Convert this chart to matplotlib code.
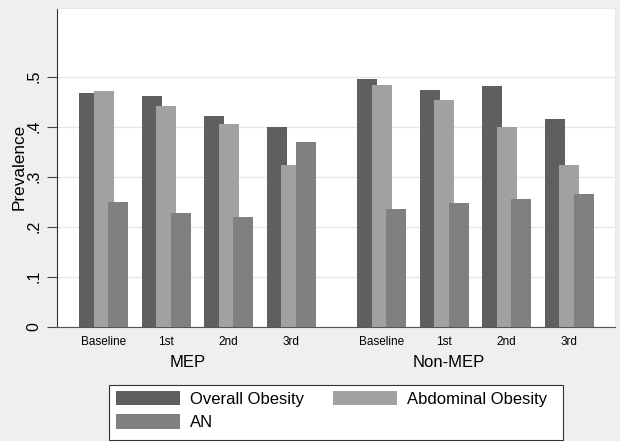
import matplotlib.pyplot as plt
import matplotlib.patches as mpatches
import numpy as np

plt.rcParams['font.family'] = ['Liberation Sans', 'DejaVu Sans']

waves = ["Baseline", "1st", "2nd", "3rd", "Baseline", "1st", "2nd", "3rd"]
groups = ["MEP", "Non-MEP"]
overall = [0.468, 0.461, 0.421, 0.400, 0.495, 0.474, 0.481, 0.415]
abdominal = [0.471, 0.441, 0.406, 0.323, 0.483, 0.453, 0.399, 0.323]
an = [0.249, 0.227, 0.219, 0.369, 0.235, 0.247, 0.256, 0.265]
series = ["Overall Obesity", "Abdominal Obesity", "AN"]
colors = ["#5f5f5f", "#a1a1a1", "#808080"]

# position of each wave on the x axis, with a gap between the two groups
x = np.array([0, 1, 2, 3, 4.45, 5.45, 6.45, 7.45])
group_x = [1.35, 5.52]
w = 0.32
step = 0.232

fig = plt.figure(figsize=(6.24, 4.45), dpi=100)
fig.patch.set_facecolor("white")
# light grey graph region
fig.add_artist(mpatches.Rectangle((0, 1 - 441 / 445), 620 / 624, 441 / 445,
                                  transform=fig.transFigure, facecolor="#efefef",
                                  edgecolor="none", zorder=-10))
# legend box
fig.add_artist(mpatches.Rectangle((109 / 624, 1 - 440 / 445), 454 / 624, 55 / 445,
                                  transform=fig.transFigure, facecolor="white",
                                  edgecolor="#333333", linewidth=0.8, zorder=-5))

ax = fig.add_axes([57 / 624, 1 - 326.7 / 445, 558 / 624, 318.7 / 445])
ax.set_facecolor("white")

bars = []
for i, (vals, lab) in enumerate(zip([overall, abdominal, an], series)):
    b = ax.bar(x + (i - 1) * step, vals, width=w, color=colors[i], label=lab,
               zorder=2 + i, linewidth=0)
    bars.append(b)

ax.set_ylim(0, 0.637)
ax.set_xlim(-0.744, 8.184)
ax.set_yticks([0, 0.1, 0.2, 0.3, 0.4, 0.5])
ax.set_yticklabels(["0", ".1", ".2", ".3", ".4", ".5"], rotation=90, va="center",
                   fontsize=11.5)
ax.yaxis.grid(True, color="#e6e6e6", linewidth=1)
ax.set_axisbelow(True)
ax.tick_params(axis="y", length=7, width=0.8, color="#444444", pad=4)
ax.set_xticks(x)
ax.set_xticklabels(waves, fontsize=8.5)
ax.tick_params(axis="x", length=0, pad=7)
ax.set_ylabel("Prevalence", fontsize=12.3, labelpad=0)

for s in ["top", "right"]:
    ax.spines[s].set_color("#e8e8e8")
ax.spines["left"].set_color("#333333")
ax.spines["bottom"].set_color("#555555")

for gx, g in zip(group_x, groups):
    ax.text(gx, -0.111, g, transform=ax.get_xaxis_transform(), ha="center",
            va="center", fontsize=12)

# legend filled row by row: Overall, Abdominal / AN
handles = [bars[0], bars[2], bars[1]]
labels = [series[0], series[2], series[1]]
leg = fig.legend(handles, labels, loc="upper left",
                 bbox_to_anchor=(116 / 624, 1 - 391 / 445), borderaxespad=0,
                 ncol=2, fontsize=12, handlelength=3.85, handleheight=0.95,
                 labelspacing=0.45, handletextpad=0.6, columnspacing=1.7,
                 borderpad=0, frameon=False)

fig.savefig("out.png", dpi=100, facecolor=fig.get_facecolor())
